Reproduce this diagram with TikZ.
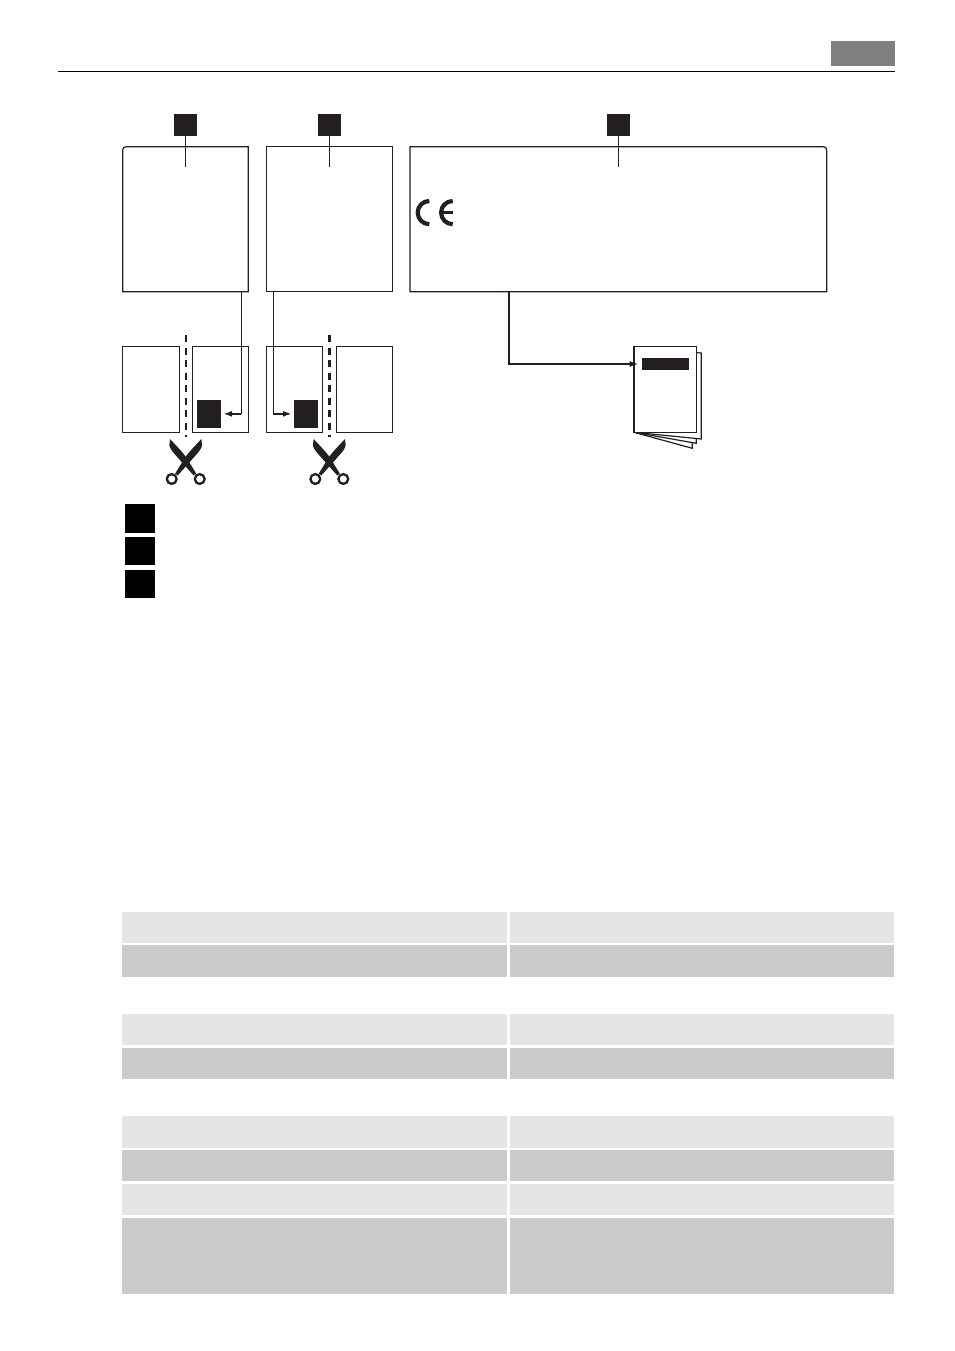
\documentclass[tikz,border=0pt]{standalone}
\usetikzlibrary{arrows.meta}
\definecolor{ink}{HTML}{231F20}
\definecolor{rowlight}{HTML}{E5E5E5}
\definecolor{rowdark}{HTML}{CBCBCB}
\tikzset{
    solid box/.style={fill=ink,inner sep=0pt,outer sep=0pt},
    legend box/.style={fill=black,inner sep=0pt,outer sep=0pt,minimum width=30pt},
    sheet/.style={draw=ink,fill=white,line width=1.2pt,inner sep=0pt,outer sep=0pt},
    leader/.style={draw=ink,line width=1pt},
    link/.style={draw=ink,line width=1.8pt,-{Latex[length=9pt,width=6pt]},shorten >=2pt},
    cut/.style={draw=ink,dash pattern=on 7pt off 5.5pt},
    shears/.pic={
        \foreach \side in {1,-1} {
            \begin{scope}[xscale=\side]
                \fill[ink] (-15.7,-21) .. controls (-11,-16) and (-6,-11) .. (0,-3.5)
                    -- (10.5,13.5) -- (8,15.5) -- (-2.3,4) -- (-10.7,-5.5)
                    .. controls (-14,-9) and (-16.5,-13) .. (-16.3,-15) -- cycle;
                \draw[ink,line width=2.3pt] (14,19) circle (4.9);
            \end{scope}
        }
    }
}
\begin{document}
\begin{tikzpicture}[x=1pt,y=-1pt]
    \useasboundingbox (0,0) rectangle (954,1351);

    % Page head
    \fill[gray] (831,41) rectangle (895,65.7);
    \draw[black,line width=1pt] (58,71.3) -- (895,71.3);

    % Large plates
    \draw[sheet] (122.7,291.7) -- (122.7,154) .. controls (122.7,146.7) .. (130,146.7)
        -- (248.3,146.7) -- (248.3,291.7) -- cycle;
    \draw[sheet] (266.7,146.7) rectangle (392.3,291.7);
    \draw[sheet] (410,291.7) -- (410,146.7) -- (819.4,146.7) .. controls (826.7,146.7) .. (826.7,154)
        -- (826.7,291.7) -- cycle;

    % Tags over the plates
    \node[solid box,minimum width=23pt,minimum height=21.7pt] (taga) at (185.5,124.8) {};
    \node[solid box,minimum width=23pt,minimum height=21.7pt] (tagb) at (329.5,124.8) {};
    \node[solid box,minimum width=23pt,minimum height=21.7pt] (tagc) at (618.5,124.8) {};
    \coordinate (enda) at (185.5,166.7);
    \coordinate (endb) at (329.5,166.7);
    \coordinate (endc) at (618.5,166.7);
    \draw[leader] (taga) -- (enda);
    \draw[leader] (tagb) -- (endb);
    \draw[leader] (tagc) -- (endc);

    % CE mark
    \draw[ink,line width=4.2pt] (429.3,224.2) arc[start angle=90,end angle=270,radius=11.6];
    \draw[ink,line width=4.2pt] (452.7,224.2) arc[start angle=90,end angle=270,radius=11.6];
    \draw[ink,line width=3.4pt] (441.5,212.5) -- (452.7,212.5);

    % Split pages
    \node[sheet,line width=1.5pt,minimum width=56.6pt,minimum height=86pt] (pagea) at (151,389.3) {};
    \node[sheet,minimum width=55.6pt,minimum height=86pt] (pageb) at (220.5,389.3) {};
    \node[sheet,minimum width=55.6pt,minimum height=86pt] (pagec) at (294.5,389.3) {};
    \node[sheet,minimum width=55.6pt,minimum height=86pt] (paged) at (364.5,389.3) {};
    \node[solid box,minimum width=24pt,minimum height=27.7pt] (blocka) at (209,413.85) {};
    \node[solid box,minimum width=24pt,minimum height=27.7pt] (blockb) at (306,413.85) {};

    % Cut lines and scissors
    \draw[cut,line width=1.5pt] (186,335) -- (186,436.7);
    \draw[cut,line width=2.6pt] (329.3,335) -- (329.3,436.7);
    \pic (scissorsa) at (185.7,460) {shears};
    \pic (scissorsb) at (329.3,460) {shears};

    % Connectors down to the blocks
    \coordinate (tapa) at (241.3,291.7);
    \coordinate (tapb) at (273.3,291.7);
    \draw[leader] (tapa) -- (tapa |- blocka);
    \draw[leader] (tapb) -- (tapb |- blockb);
    \draw[link] (tapa |- blocka) -- (blocka);
    \draw[link] (tapb |- blockb) -- (blockb);

    % Booklet
    \draw[sheet] (634,432.3) -- (692.3,448.3) -- (692.3,440) -- cycle;
    \draw[sheet] (634,432.3) -- (696.3,443.3) -- (696.3,436) -- cycle;
    \draw[sheet] (690,352.3) -- (701.3,353) -- (701.3,439) -- (634,432.3) -- cycle;
    \node[sheet,line width=1.4pt,minimum width=62.3pt,minimum height=86pt] (booklet) at (665.15,389.3) {};
    \node[solid box,minimum width=47pt,minimum height=12.7pt] (title) at (665.5,364) {};
    \coordinate (tapc) at (508.7,291.7);
    \draw[link,shorten >=3.3pt] (tapc) |- (title);

    % Legend squares
    \node[legend box,minimum height=28.7pt] (keya) at (140,518.35) {};
    \node[legend box,minimum height=27.7pt] (keyb) at (140,550.85) {};
    \node[legend box,minimum height=28pt] (keyc) at (140,584) {};

    % Table rows
    \foreach \ya/\yb/\shade in {912/943/rowlight,945/977/rowdark,1014/1045/rowlight,1048/1079/rowdark,
                                1116/1148/rowlight,1150/1181/rowdark,1184/1215/rowlight,1218/1294/rowdark} {
        \fill[\shade] (122,\ya) rectangle (507,\yb);
        \fill[\shade] (510,\ya) rectangle (894,\yb);
    }

\end{tikzpicture}
\end{document}
